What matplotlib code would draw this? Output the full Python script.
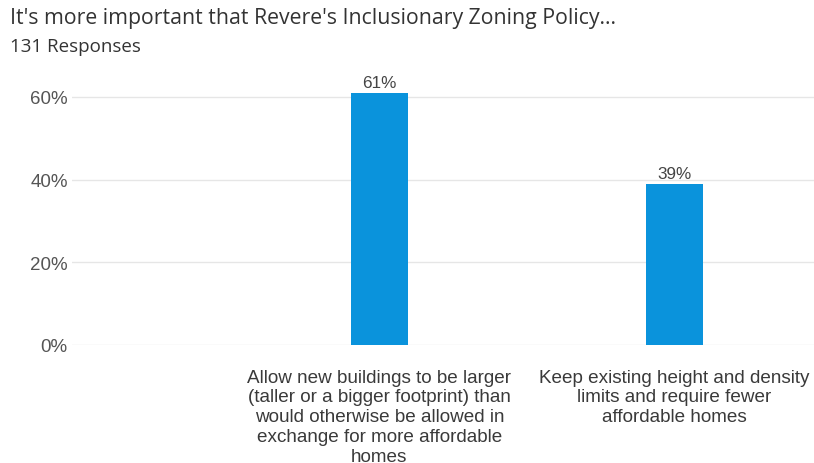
import matplotlib
matplotlib.use("Agg")
import matplotlib.pyplot as plt

categories = [
    "Allow new buildings to be larger\n(taller or a bigger footprint) than\nwould otherwise be allowed in\nexchange for more affordable\nhomes",
    "Keep existing height and density\nlimits and require fewer\naffordable homes",
]
values = [61, 39]
yticks = [0, 20, 40, 60]
title = "It's more important that Revere's Inclusionary Zoning Policy..."
subtitle = "131 Responses"

title_font = ["Open Sans", "DejaVu Sans"]
body_font = ["Liberation Sans", "DejaVu Sans"]

W, H = 814, 464
fig = plt.figure(figsize=(W / 100, H / 100), dpi=100)
fig.patch.set_facecolor("white")

# axes in pixel terms: left 72, right 814, zero line at y=346
ax_left, ax_right = 72, 814
y_zero, y_top = 346, 77.3
ax = fig.add_axes([ax_left / W, 1 - y_zero / H, (ax_right - ax_left) / W, (y_zero - y_top) / H])

x = list(range(len(categories)))
bars = ax.bar(x, values, width=57 / 295, color="#0a93dc", zorder=3)

ax.set_xlim(-1.042, 1.473)
ax.set_ylim(0, 65)
ax.set_yticks(yticks)
ax.set_yticklabels([f"{v}%" for v in yticks], fontsize=13.5, color="#555555", family=body_font)
ax.set_xticks(x)
ax.set_xticklabels(categories, fontsize=13.6, color="#3a3a3a", family=body_font,
                   linespacing=1.22, ha="center", va="top")
ax.tick_params(axis="both", length=0)
ax.tick_params(axis="y", pad=3)
ax.tick_params(axis="x", pad=17)

ax.grid(axis="y", color="#e6e6e6", linewidth=1, zorder=0)
for s in ax.spines.values():
    s.set_visible(False)

for b, v in zip(bars, values):
    ax.annotate(f"{v}%", (b.get_x() + b.get_width() / 2, v), xytext=(0, 2),
                textcoords="offset points", ha="center", va="bottom",
                fontsize=12.3, color="#444444", family=body_font)

renderer = fig.canvas.get_renderer()


def header(text, y_base, size, width_px):
    """Place a header line and size it to span the given pixel width."""
    t = fig.text(10 / W, 1 - y_base / H, text, fontsize=size, color="#333333",
                 family=title_font, ha="left", va="baseline")
    w = t.get_window_extent(renderer).width
    if w > 0:
        t.set_fontsize(size * width_px / w)
    return t


header(title, 24, 15, 605)
header(subtitle, 52, 12, 130)

fig.savefig("out.png", dpi=100)
